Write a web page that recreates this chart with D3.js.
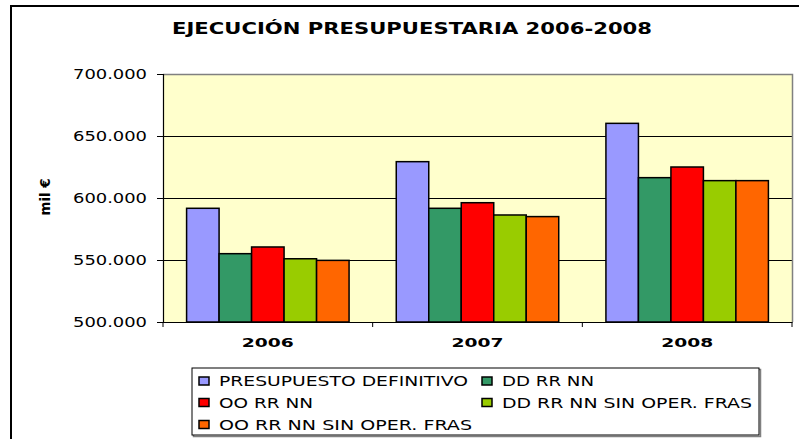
<!DOCTYPE html>
<html>
<head>
<meta charset="utf-8">
<script src="https://cdn.jsdelivr.net/npm/d3@7"></script>
<style>
  body { margin: 0; background: #fff; }
  svg { display: block; font-family: "DejaVu Sans", Verdana, sans-serif; }
</style>
</head>
<body>
<div id="chart"></div>
<script>
// data (mil €)
const years = ["2006", "2007", "2008"];
const seriesNames = ["PRESUPUESTO DEFINITIVO", "DD RR NN", "OO RR NN", "DD RR NN SIN OPER. FRAS", "OO RR NN SIN OPER. FRAS"];
const seriesColors = ["#9999FF", "#339966", "#FF0000", "#99CC00", "#FF6600"];
const presupuesto = [591700, 629300, 660200];
const ddrrnn = [555100, 591700, 616400];
const oorrnn = [560500, 596200, 625000];
const ddSinOper = [551000, 586300, 614000];
const ooSinOper = [549700, 585000, 614000];
const yTicks = [500000, 550000, 600000, 650000, 700000];

const values = [presupuesto, ddrrnn, oorrnn, ddSinOper, ooSinOper];

const W = 799, H = 439;
const plot = {left: 163, right: 792, top: 74, bottom: 322};

const svg = d3.select("#chart").append("svg")
  .attr("width", W).attr("height", H);

// outer chart frame (runs off right/bottom)
svg.append("rect")
  .attr("x", 11).attr("y", 6)
  .attr("width", 820).attr("height", 460)
  .attr("fill", "#fff").attr("stroke", "#000").attr("stroke-width", 2);

// title
svg.append("text")
  .attr("x", 412).attr("y", 34)
  .attr("text-anchor", "middle")
  .attr("font-size", 15).attr("font-weight", "bold")
  .attr("textLength", 480).attr("lengthAdjust", "spacingAndGlyphs")
  .text("EJECUCIÓN PRESUPUESTARIA 2006-2008");

const es = d3.formatLocale({decimal: ",", thousands: ".", grouping: [3], currency: ["", "€"]});
const fmt = es.format(",d");

const y = d3.scaleLinear().domain([500000, 700000]).range([plot.bottom, plot.top]);
const x0 = d3.scaleBand().domain(years).range([plot.left, plot.right]);
const x1 = d3.scaleBand().domain(d3.range(seriesNames.length))
  .range([0, x0.bandwidth()]).paddingInner(0).paddingOuter(0.726);

// plot background
svg.append("rect")
  .attr("x", plot.left).attr("y", plot.top)
  .attr("width", plot.right - plot.left).attr("height", plot.bottom - plot.top)
  .attr("fill", "#FFFFCC");

// gridlines
svg.append("g")
  .selectAll("line")
  .data(yTicks.slice(1, -1))
  .enter().append("line")
    .attr("x1", plot.left).attr("x2", plot.right)
    .attr("y1", d => Math.round(y(d)) + 0.5).attr("y2", d => Math.round(y(d)) + 0.5)
    .attr("stroke", "#000").attr("stroke-width", 1);

// plot border top/right (gray)
svg.append("path")
  .attr("d", `M${plot.left},${plot.top + 0.5}H${plot.right + 0.5}V${plot.bottom}`)
  .attr("fill", "none").attr("stroke", "#808080").attr("stroke-width", 1.5);

// bars
const groups = svg.append("g")
  .selectAll("g")
  .data(years)
  .enter().append("g")
    .attr("transform", d => "translate(" + x0(d) + ",0)");

groups.selectAll("rect")
  .data((d, i) => values.map((s, k) => ({k: k, v: s[i]})))
  .enter().append("rect")
    .attr("x", d => x1(d.k))
    .attr("y", d => y(d.v))
    .attr("width", x1.bandwidth())
    .attr("height", d => y(500000) - y(d.v))
    .attr("fill", d => seriesColors[d.k])
    .attr("stroke", "#000").attr("stroke-width", 1.5);

// y axis
const yAxis = svg.append("g")
  .attr("transform", "translate(" + plot.left + ",0)")
  .call(d3.axisLeft(y).tickValues(yTicks).tickSize(6).tickPadding(10).tickFormat(fmt));
yAxis.select(".domain").attr("stroke", "#000").attr("stroke-width", 1.2);
yAxis.selectAll(".tick line").attr("stroke", "#000");
yAxis.selectAll("text")
  .attr("font-size", 14).attr("fill", "#000")
  .attr("font-family", "DejaVu Sans, sans-serif")
  .attr("textLength", 74).attr("lengthAdjust", "spacingAndGlyphs");

// x axis
const xAxis = svg.append("g")
  .attr("transform", "translate(0," + plot.bottom + ")")
  .call(d3.axisBottom(x0).tickSize(0).tickPadding(16));
xAxis.select(".domain").attr("stroke", "#000").attr("stroke-width", 1.2);
xAxis.selectAll("text")
  .attr("font-size", 13).attr("font-weight", "bold").attr("fill", "#000")
  .attr("font-family", "DejaVu Sans, sans-serif")
  .attr("textLength", 52).attr("lengthAdjust", "spacingAndGlyphs");
// category separators
svg.append("g")
  .selectAll("line")
  .data(years.map(d => x0(d)).concat([plot.right]))
  .enter().append("line")
    .attr("x1", d => d).attr("x2", d => d)
    .attr("y1", plot.bottom).attr("y2", plot.bottom + 5)
    .attr("stroke", "#000");

// y axis title
svg.append("text")
  .attr("transform", "translate(50,197) rotate(-90)")
  .attr("text-anchor", "middle")
  .attr("font-size", 14).attr("font-weight", "bold")
  .attr("textLength", 37).attr("lengthAdjust", "spacingAndGlyphs")
  .text("mil €");

// legend
const legend = {x: 192, y: 368, w: 567, h: 67};
svg.append("rect")
  .attr("x", legend.x + 1.5).attr("y", legend.y + 1.5)
  .attr("width", legend.w).attr("height", legend.h)
  .attr("fill", "none").attr("stroke", "#808080").attr("stroke-width", 1.5);
svg.append("rect")
  .attr("x", legend.x).attr("y", legend.y)
  .attr("width", legend.w).attr("height", legend.h)
  .attr("fill", "#fff").attr("stroke", "#000").attr("stroke-width", 1);

const legendPos = [[0, 0], [1, 0], [0, 1], [1, 1], [0, 2]];
const legendLen = [249, 92, 94, 250, 253];
const colX = [199, 482];
const rowY = [386, 407.5, 429.5];

const items = svg.append("g")
  .selectAll("g")
  .data(seriesNames)
  .enter().append("g")
    .attr("transform", (d, i) => "translate(" + colX[legendPos[i][0]] + "," + rowY[legendPos[i][1]] + ")");
items.append("rect")
  .attr("x", 0).attr("y", -9)
  .attr("width", 10).attr("height", 8)
  .attr("fill", (d, i) => seriesColors[i])
  .attr("stroke", "#000").attr("stroke-width", 1.5);
items.append("text")
  .attr("x", 20).attr("y", 0)
  .attr("font-size", 14)
  .attr("textLength", (d, i) => legendLen[i]).attr("lengthAdjust", "spacingAndGlyphs")
  .text(d => d);
</script>
</body>
</html>
